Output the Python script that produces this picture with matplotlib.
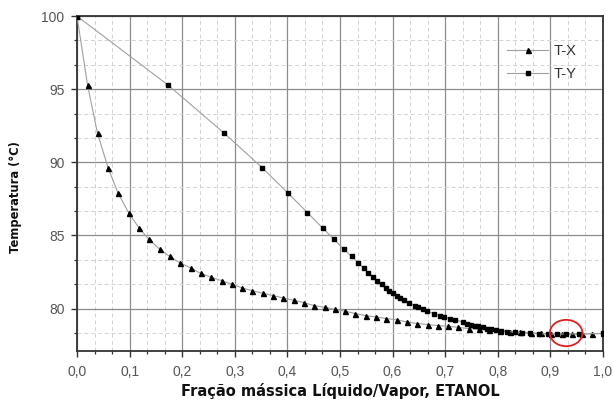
import matplotlib
matplotlib.use("Agg")
import matplotlib.pyplot as plt
from matplotlib.patches import Ellipse
from matplotlib.ticker import MultipleLocator, FuncFormatter

plt.rcParams['font.family'] = ['Liberation Sans', 'DejaVu Sans']

# Temperatures (°C), shared by both curves
temperatura = [100.0, 95.29, 91.99, 89.64, 87.90, 86.57, 85.51, 84.73, 84.07, 83.57,
               83.12, 82.78, 82.41, 82.14, 81.91, 81.68, 81.41, 81.23, 81.05, 80.89,
               80.73, 80.57, 80.41, 80.20, 80.09, 79.95, 79.82, 79.66, 79.52, 79.43,
               79.32, 79.23, 79.09, 78.98, 78.91, 78.84, 78.79, 78.72, 78.63, 78.59,
               78.53, 78.48, 78.43, 78.39, 78.35, 78.31, 78.28, 78.27, 78.26, 78.26,
               78.28, 78.30]

# Liquid mass fraction (T-X)
fracao_liquido = [0.000, 0.020, 0.039, 0.059, 0.078, 0.098, 0.118, 0.137, 0.157, 0.176,
                  0.196, 0.216, 0.235, 0.255, 0.275, 0.294, 0.314, 0.333, 0.353, 0.373,
                  0.392, 0.412, 0.431, 0.451, 0.471, 0.490, 0.510, 0.529, 0.549, 0.569,
                  0.588, 0.608, 0.627, 0.647, 0.667, 0.686, 0.706, 0.725, 0.745, 0.765,
                  0.784, 0.804, 0.824, 0.843, 0.863, 0.882, 0.902, 0.922, 0.941, 0.961,
                  0.980, 1.000]

# Vapor mass fraction (T-Y)
fracao_vapor = [0.000, 0.173, 0.280, 0.352, 0.401, 0.438, 0.467, 0.489, 0.507, 0.522,
                0.535, 0.545, 0.554, 0.563, 0.571, 0.579, 0.587, 0.594, 0.601, 0.608,
                0.615, 0.622, 0.632, 0.642, 0.648, 0.657, 0.666, 0.678, 0.690, 0.698,
                0.710, 0.719, 0.733, 0.742, 0.750, 0.757, 0.763, 0.771, 0.780, 0.787,
                0.796, 0.806, 0.818, 0.832, 0.846, 0.862, 0.878, 0.895, 0.912, 0.930,
                0.955, 1.000]

xticks = [0.0, 0.1, 0.2, 0.3, 0.4, 0.5, 0.6, 0.7, 0.8, 0.9, 1.0]
yticks = [80, 85, 90, 95, 100]

fig = plt.figure(figsize=(6.14, 4.03), dpi=100)
ax = fig.add_axes([0.1254, 0.129, 0.8566, 0.831])

line_col = '#a0a0a0'
ax.plot(fracao_liquido, temperatura, color=line_col, lw=0.8, marker='^', ms=3.6,
        mfc='black', mec='black', label='T-X', zorder=3)
ax.plot(fracao_vapor, temperatura, color=line_col, lw=0.8, marker='s', ms=2.4,
        mfc='black', mec='black', label='T-Y', zorder=3)

ax.set_xlim(0, 1.0)
ax.set_ylim(77.1, 100)
ax.set_xticks(xticks)
ax.set_yticks(yticks)
ax.xaxis.set_minor_locator(MultipleLocator(1/30))
ax.yaxis.set_minor_locator(MultipleLocator(5/3))
ax.xaxis.set_major_formatter(FuncFormatter(lambda v, p: f"{v:.1f}".replace('.', ',')))

ax.grid(which='major', color='#8c8c8c', lw=0.9, ls='-', zorder=1)
ax.grid(which='minor', color='#d2d2d2', lw=0.7, ls=(0, (4, 3)), zorder=1)
ax.set_axisbelow(True)

for s in ax.spines.values():
    s.set_color('#333333')
    s.set_linewidth(1.3)
ax.tick_params(which='major', direction='out', length=4, width=1.0, colors='#333333',
               labelsize=10, labelcolor='#555555')
ax.tick_params(axis='y', which='major', pad=5)
ax.tick_params(axis='x', which='major', pad=6)
ax.tick_params(which='minor', direction='out', length=2.5, width=0.9, colors='#333333')

ax.set_xlabel('Fração mássica Líquido/Vapor, ETANOL', fontsize=10.5, fontweight='bold',
              family='DejaVu Sans', color='#111111', labelpad=3)
ax.set_ylabel('Temperatura (°C)', fontsize=8.3, fontweight='bold', family='DejaVu Sans',
              color='#111111')
ax.yaxis.set_label_coords(-0.105, 0.46)

leg = ax.legend(loc='upper right', frameon=False, fontsize=10.5, handlelength=2.8,
                handletextpad=0.4, labelspacing=0.6, bbox_to_anchor=(0.975, 0.955),
                labelcolor='#333333')

ax.add_patch(Ellipse((0.93, 78.33), 0.062, 1.8, fill=False, edgecolor='#e02020',
                     lw=1.3, zorder=5))

fig.savefig('out.png', dpi=100)
